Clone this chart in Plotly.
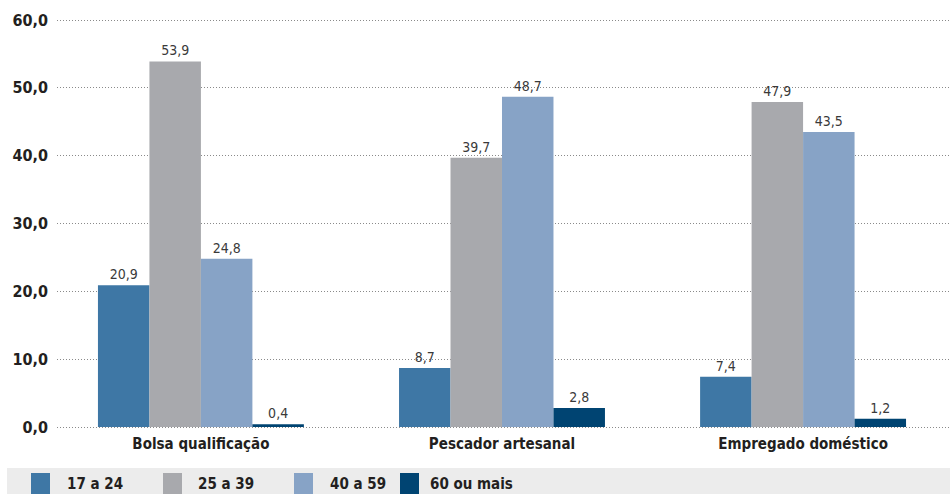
import plotly.graph_objects as go

categories = ["Bolsa qualificação", "Pescador artesanal", "Empregado doméstico"]
series_names = ["17 a 24", "25 a 39", "40 a 59", "60 ou mais"]
values_17_24 = [20.9, 8.7, 7.4]
values_25_39 = [53.9, 39.7, 47.9]
values_40_59 = [24.8, 48.7, 43.5]
values_60_mais = [0.4, 2.8, 1.2]
y_ticks = [0, 10, 20, 30, 40, 50, 60]

colors = ["#3e77a5", "#a8a9ad", "#87a3c6", "#004472"]
FONT = "DejaVu Sans Condensed, Liberation Sans Narrow, sans-serif"

W, H = 950, 494
ML, MR, MT, MB = 57, 0, 16, 63
pw = W - ML - MR
ph = H - MT - MB
# 0 sits at y=427 px and 60 at y=20 px; pad the range so both end gridlines show
unit = (427 - 20) / 60
pad_top = (20 - MT) / unit
pad_bot = (H - MB - 427) / unit


def px_x(x):
    return (x - ML) / pw


def px_y(y):
    return (H - MB - y) / ph


fig = go.Figure()
for name, vals, col in zip(series_names,
                           [values_17_24, values_25_39, values_40_59, values_60_mais],
                           colors):
    fig.add_trace(go.Bar(
        x=categories, y=vals, name=name, marker_color=col, marker_line_width=0,
        texttemplate="%{y:.1f}", textposition="outside", cliponaxis=False,
        textfont=dict(family=FONT, size=14, color="#3a3a3a"),
        showlegend=False,
    ))

# grey legend band along the bottom edge
fig.add_shape(type="rect", xref="paper", yref="paper",
              x0=px_x(7), x1=px_x(950), y0=px_y(494), y1=px_y(468),
              fillcolor="#ececec", line_width=0, layer="below")

swatch_x = [31, 163, 294, 400]
label_x = [65, 196, 328, 428]
for sx, lx, name, col in zip(swatch_x, label_x, series_names, colors):
    fig.add_shape(type="rect", xref="paper", yref="paper",
                  x0=px_x(sx), x1=px_x(sx + 19), y0=px_y(494), y1=px_y(473),
                  fillcolor=col, line_width=0)
    fig.add_annotation(xref="paper", yref="paper", x=px_x(lx), y=px_y(484),
                       text=name, showarrow=False, xanchor="left", yanchor="middle",
                       font=dict(family=FONT, size=15, color="#231f20", weight="bold"))

fig.update_layout(
    width=W, height=H,
    margin=dict(l=ML, r=MR, t=MT, b=MB, pad=0),
    paper_bgcolor="white", plot_bgcolor="white",
    barmode="group", bargap=0.316, bargroupgap=0,
    separators=",.",
    font=dict(family=FONT, color="#231f20"),
    xaxis=dict(range=[-0.478, 2.488], showgrid=False, showline=False, ticks="",
               tickfont=dict(family=FONT, size=15, color="#231f20", weight="bold"),
               ticklabelstandoff=2),
    yaxis=dict(range=[-pad_bot, 60 + pad_top], tickvals=y_ticks, tickformat=".1f",
               showgrid=True, gridcolor="#8a8a8a", griddash="1px,2px", gridwidth=1,
               zeroline=False, showline=False, ticks="",
               tickfont=dict(family=FONT, size=16, color="#231f20", weight="bold"),
               ticklabelstandoff=8),
)

fig.write_html("out.html")
